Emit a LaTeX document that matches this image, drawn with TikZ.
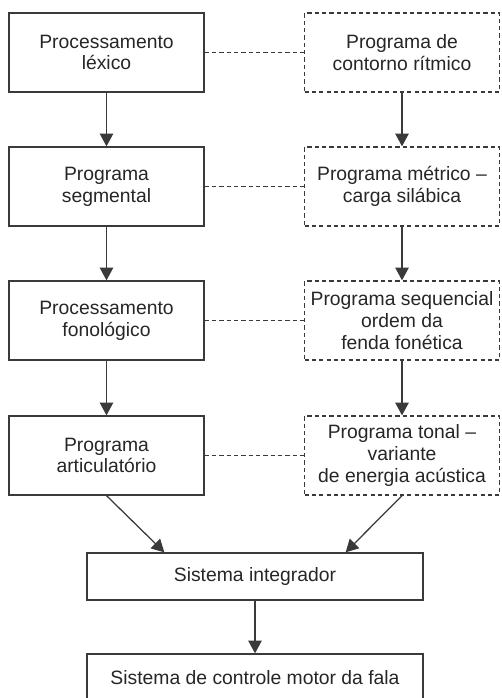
\documentclass[tikz,border=0pt]{standalone}
\usepackage{fontspec}
\setmainfont{Liberation Sans}
\usepackage{tikz}
\usetikzlibrary{arrows.meta}
\definecolor{linegray}{HTML}{3A3A3A}
\definecolor{textgray}{HTML}{262626}

\begin{document}
\begin{tikzpicture}[x=0.75pt,y=-0.75pt,
  box/.style={draw=linegray,line width=0.95pt,inner sep=0pt,align=center,
    text=textgray,font=\fontsize{14.5}{16.3}\selectfont,
    minimum width=146.25pt,minimum height=59.25pt},
  dbox/.style={box,dash pattern=on 3.2pt off 2.3pt},
  wbox/.style={box,minimum width=252pt,minimum height=35.25pt},
  arr/.style={draw=linegray,line width=0.95pt,-{Triangle[length=9.5pt,width=10pt]}},
  link/.style={draw=linegray,line width=0.95pt,dash pattern=on 3.2pt off 2.3pt}]
\clip (0,0) rectangle (501,698);
\fill[white] (0,0) rectangle (501,698);
% coluna da esquerda
\node[box] (lex) at (106.5,52.5) {Processamento\\léxico};
\node[box] (seg) at (106.5,186.5) {Programa\\segmental};
\node[box] (fon) at (106.5,320.5) {Processamento\\fonológico};
\node[box] (art) at (106.5,455.5) {Programa\\articulatório};
% coluna da direita
\node[dbox] (rit) at (402,52.5) {Programa de\\contorno rítmico};
\node[dbox] (met) at (402,186.5) {Programa métrico --\\carga silábica};
\node[dbox] (seq) at (402,320.5) {Programa sequencial\\ordem da\\fenda fonética};
\node[dbox] (ton) at (402,455.5) {Programa tonal --\\variante\\de energia acústica};
% base
\node[wbox] (integ) at (255,576.5) {Sistema integrador};
\node[wbox] (motor) at (255,677.5) {Sistema de controle motor da fala};
\draw[arr] (lex) -- (seg);
\draw[arr] (seg) -- (fon);
\draw[arr] (fon) -- (art);
\draw[arr] (rit) -- (met);
\draw[arr] (met) -- (seq);
\draw[arr] (seq) -- (ton);
\draw[link] (lex.east) -- (rit.west);
\draw[link] (seg.east) -- (met.west);
\draw[link] (fon.east) -- (seq.west);
\draw[link] (art.east) -- (ton.west);
\draw[arr] (art.south) -- ([xshift=58.5pt]integ.north west);
\draw[arr] (ton.south) -- ([xshift=-58.5pt]integ.north east);
\draw[arr] (integ) -- (motor);
\end{tikzpicture}
\end{document}
